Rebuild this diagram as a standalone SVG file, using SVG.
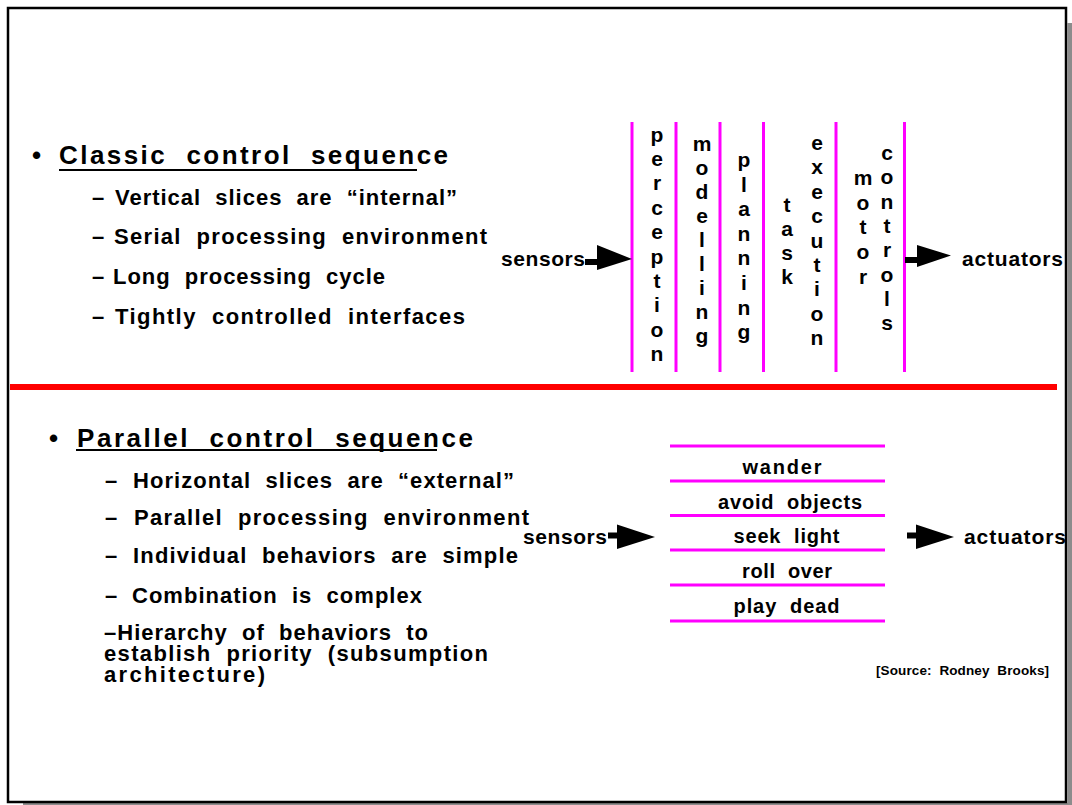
<svg xmlns="http://www.w3.org/2000/svg" width="1072" height="805" viewBox="0 0 1072 805">
<style>
text{font-family:"Liberation Sans",Arial,sans-serif;font-weight:bold;fill:#000;white-space:pre}
.title{font-size:26px}
.sub{font-size:22px}
.col{font-size:21px;text-anchor:middle}
.lab{font-size:20px;text-anchor:middle}
.io{font-size:21px}
.src{font-size:13.5px}
.mag{stroke:#ff00ff;stroke-width:3;fill:none}
.ul{stroke:#000;stroke-width:2.2}
.head{fill:#000}
</style>
<rect x="0" y="0" width="1072" height="805" fill="#fff"/>
<g id="frame">
<rect x="1067.5" y="23" width="4.5" height="782" fill="#8c8c8c"/>
<rect x="23" y="803" width="1049" height="2" fill="#8c8c8c"/>
<rect x="8" y="8" width="1058" height="794" fill="none" stroke="#000" stroke-width="2.5"/>
</g>
<rect id="divider" x="10" y="384" width="1047" height="6" fill="#ff0000"/>

<g id="classic-text">
<text class="title" x="32" y="164">•</text>
<text class="title" x="59" y="164" textLength="389" lengthAdjust="spacing">Classic  control  sequence</text>
<line class="ul" x1="59" y1="170" x2="417" y2="170"/>
<text class="sub" x="92" y="205">–</text>
<text class="sub" x="115" y="205" textLength="342" lengthAdjust="spacing">Vertical  slices  are  “internal”</text>
<text class="sub" x="92" y="244">–</text>
<text class="sub" x="114" y="244" textLength="373" lengthAdjust="spacing">Serial  processing  environment</text>
<text class="sub" x="92" y="284">–</text>
<text class="sub" x="113" y="284" textLength="272" lengthAdjust="spacing">Long  processing  cycle</text>
<text class="sub" x="92" y="324">–</text>
<text class="sub" x="115" y="324" textLength="350" lengthAdjust="spacing">Tightly  controlled  interfaces</text>
</g>

<g id="classic-layers">
<line class="mag" x1="632" y1="122" x2="632" y2="372"/>
<line class="mag" x1="676" y1="122" x2="676" y2="372"/>
<line class="mag" x1="720" y1="122" x2="720" y2="372"/>
<line class="mag" x1="763.5" y1="122" x2="763.5" y2="372"/>
<line class="mag" x1="836" y1="122" x2="836" y2="372"/>
<line class="mag" x1="904.5" y1="122" x2="904.5" y2="372"/>
</g>

<g id="perception"><text class="col" x="657" y="141.5"><tspan x="657">p</tspan><tspan x="657" dy="24.4">e</tspan><tspan x="657" dy="24.4">r</tspan><tspan x="657" dy="24.4">c</tspan><tspan x="657" dy="24.4">e</tspan><tspan x="657" dy="24.4">p</tspan><tspan x="657" dy="24.4">t</tspan><tspan x="657" dy="24.4">i</tspan><tspan x="657" dy="24.4">o</tspan><tspan x="657" dy="24.4">n</tspan></text></g>
<g id="modelling"><text class="col" x="702" y="150.5"><tspan x="702">m</tspan><tspan x="702" dy="24.1">o</tspan><tspan x="702" dy="24.1">d</tspan><tspan x="702" dy="24.1">e</tspan><tspan x="702" dy="24.1">l</tspan><tspan x="702" dy="24.1">l</tspan><tspan x="702" dy="24.1">i</tspan><tspan x="702" dy="24.1">n</tspan><tspan x="702" dy="24.1">g</tspan></text></g>
<g id="planning"><text class="col" x="744" y="167"><tspan x="744">p</tspan><tspan x="744" dy="24.6">l</tspan><tspan x="744" dy="24.6">a</tspan><tspan x="744" dy="24.6">n</tspan><tspan x="744" dy="24.6">n</tspan><tspan x="744" dy="24.6">i</tspan><tspan x="744" dy="24.6">n</tspan><tspan x="744" dy="24.6">g</tspan></text></g>
<g id="task"><text class="col" x="787" y="211.5"><tspan x="787">t</tspan><tspan x="787" dy="24">a</tspan><tspan x="787" dy="24">s</tspan><tspan x="787" dy="24">k</tspan></text></g>
<g id="execution"><text class="col" x="817" y="150"><tspan x="817">e</tspan><tspan x="817" dy="24.4">x</tspan><tspan x="817" dy="24.4">e</tspan><tspan x="817" dy="24.4">c</tspan><tspan x="817" dy="24.4">u</tspan><tspan x="817" dy="24.4">t</tspan><tspan x="817" dy="24.4">i</tspan><tspan x="817" dy="24.4">o</tspan><tspan x="817" dy="24.4">n</tspan></text></g>
<g id="motor"><text class="col" x="863" y="185"><tspan x="863">m</tspan><tspan x="863" dy="24.7">o</tspan><tspan x="863" dy="24.7">t</tspan><tspan x="863" dy="24.7">o</tspan><tspan x="863" dy="24.7">r</tspan></text></g>
<g id="controls"><text class="col" x="887" y="160"><tspan x="887">c</tspan><tspan x="887" dy="24.3">o</tspan><tspan x="887" dy="24.3">n</tspan><tspan x="887" dy="24.3">t</tspan><tspan x="887" dy="24.3">r</tspan><tspan x="887" dy="24.3">o</tspan><tspan x="887" dy="24.3">l</tspan><tspan x="887" dy="24.3">s</tspan></text></g>

<g id="sensors-top"><text class="io" x="501" y="266" textLength="84" lengthAdjust="spacing">sensors</text></g>
<g id="actuators-top"><text class="io" x="962" y="266" textLength="101" lengthAdjust="spacing">actuators</text></g>

<g id="parallel-text">
<text class="title" x="49" y="447">•</text>
<text class="title" x="77" y="447" textLength="396" lengthAdjust="spacing">Parallel  control  sequence</text>
<line class="ul" x1="76" y1="450" x2="437" y2="450"/>
<text class="sub" x="105" y="488">–</text>
<text class="sub" x="133" y="488" textLength="381" lengthAdjust="spacing">Horizontal  slices  are  “external”</text>
<text class="sub" x="105" y="525">–</text>
<text class="sub" x="134" y="525" textLength="395" lengthAdjust="spacing">Parallel  processing  environment</text>
<text class="sub" x="105" y="563">–</text>
<text class="sub" x="133" y="563" textLength="385" lengthAdjust="spacing">Individual  behaviors  are  simple</text>
<text class="sub" x="105" y="603">–</text>
<text class="sub" x="132" y="603" textLength="290" lengthAdjust="spacing">Combination  is  complex</text>
<text class="sub" x="104" y="640"><tspan x="104" textLength="324" lengthAdjust="spacing">–Hierarchy  of  behaviors  to</tspan><tspan x="104" dy="21" textLength="384" lengthAdjust="spacing">establish  priority  (subsumption</tspan><tspan x="104" dy="21" textLength="161" lengthAdjust="spacing">architecture)</tspan></text>
</g>

<g id="parallel-layers">
<line class="mag" x1="670" y1="446" x2="885" y2="446"/>
<line class="mag" x1="670" y1="481" x2="885" y2="481"/>
<line class="mag" x1="670" y1="515.5" x2="885" y2="515.5"/>
<line class="mag" x1="670" y1="550" x2="885" y2="550"/>
<line class="mag" x1="670" y1="585" x2="885" y2="585"/>
<line class="mag" x1="670" y1="621" x2="885" y2="621"/>
</g>
<g id="wander"><text class="lab" x="782" y="474" textLength="79" lengthAdjust="spacing">wander</text></g>
<g id="avoid-objects"><text class="lab" x="790" y="509" textLength="144" lengthAdjust="spacing">avoid  objects</text></g>
<g id="seek-light"><text class="lab" x="786.5" y="543" textLength="106" lengthAdjust="spacing">seek  light</text></g>
<g id="roll-over"><text class="lab" x="787" y="578" textLength="90" lengthAdjust="spacing">roll  over</text></g>
<g id="play-dead"><text class="lab" x="786.5" y="613" textLength="106" lengthAdjust="spacing">play  dead</text></g>

<g id="sensors-bottom"><text class="io" x="523" y="544" textLength="84" lengthAdjust="spacing">sensors</text></g>
<g id="actuators-bottom"><text class="io" x="964" y="544" textLength="102" lengthAdjust="spacing">actuators</text></g>

<text class="src" x="876" y="675" textLength="173" lengthAdjust="spacing">[Source:  Rodney  Brooks]</text>

<g id="connectors">
<rect x="585" y="259" width="13" height="6"/>
<polygon class="head" points="597,245 632,259 597,270"/>
<rect x="905" y="257" width="13" height="6"/>
<polygon class="head" points="917,245 951,255.5 917,267"/>
<rect x="608" y="532.5" width="13" height="6"/>
<polygon class="head" points="617,524.5 655,537 617,549"/>
<rect x="907" y="532.5" width="13" height="6"/>
<polygon class="head" points="916,524.5 954,537 916,549"/>
</g>
</svg>
